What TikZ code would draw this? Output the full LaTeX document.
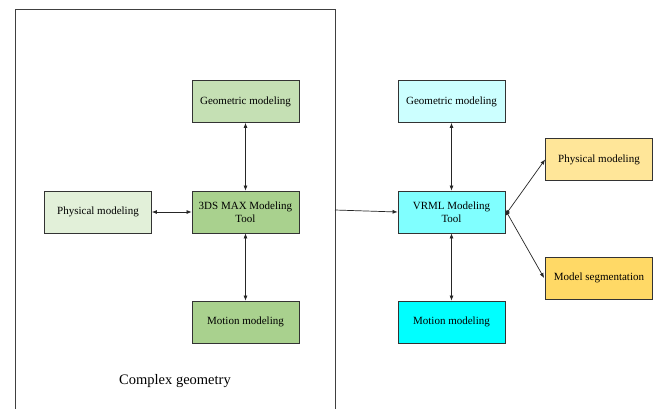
\documentclass[tikz,border=0pt]{standalone}
\usepackage{fontspec}
\setmainfont{Liberation Serif}
\usetikzlibrary{arrows.meta}
\definecolor{gA}{HTML}{C5E0B4}
\definecolor{gB}{HTML}{E2F0D9}
\definecolor{gC}{HTML}{A9D18E}
\definecolor{cA}{HTML}{CCFFFF}
\definecolor{cB}{HTML}{80FFFF}
\definecolor{cC}{HTML}{00FFFF}
\definecolor{yA}{HTML}{FFE699}
\definecolor{yB}{HTML}{FFD966}
\tikzset{
  box/.style={draw=black!80, line width=0.8pt, minimum width=107pt, minimum height=42pt, inner sep=1pt, align=center, font=\fontsize{11}{12.5}\selectfont},
  dbl/.style={{Latex[length=5pt,width=4pt]}-{Latex[length=5pt,width=4pt]}, line width=0.7pt, draw=black!85},
  one/.style={-{Latex[length=5pt,width=4pt]}, line width=0.7pt, draw=black!85},
}
\begin{document}
\begin{tikzpicture}[x=1pt,y=-1pt]
\useasboundingbox (0,0) rectangle (659,408);
\fill[white] (0,0) rectangle (659,408);
\draw[black!75, line width=0.8pt] (15,420) -- (15,9) -- (335,9) -- (335,420);
\coordinate (frameR) at (335,210);
\node[box, fill=gA] (geoL) at (245.5,101.5) {Geometric modeling};
\node[box, fill=gC] (maxT) at (245.5,212) {3DS MAX Modeling\\Tool};
\node[box, fill=gC] (motL) at (245.5,322) {Motion modeling};
\node[box, fill=gB] (phyL) at (98,212) {Physical modeling};
\node[font=\fontsize{14.5}{16}\selectfont] (cg) at (175,381) {Complex geometry};
\node[box, fill=cA] (geoR) at (451.5,101.5) {Geometric modeling};
\node[box, fill=cB] (vrml) at (451.5,212) {VRML Modeling\\Tool};
\node[box, fill=cC] (motR) at (451.5,322) {Motion modeling};
\node[box, fill=yA] (phyR) at (599,159.5) {Physical modeling};
\node[box, fill=yB] (seg) at (599,278) {Model segmentation};
\draw[dbl] (geoL) -- (maxT);
\draw[dbl] (maxT) -- (motL);
\draw[dbl] (phyL) -- (maxT);
\draw[dbl] (geoR) -- (vrml);
\draw[dbl] (vrml) -- (motR);
\draw[dbl] ([yshift=-3pt]vrml.east) -- (phyR.west);
\draw[dbl] ([yshift=2pt]vrml.east) -- ([xshift=-1pt]seg.west);
\draw[one] (frameR) -- (vrml.west);
\end{tikzpicture}
\end{document}
